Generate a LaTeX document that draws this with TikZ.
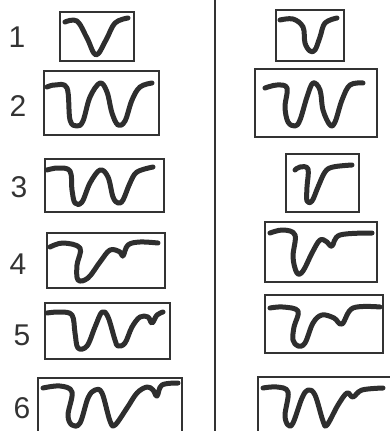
\documentclass[tikz,border=0pt]{standalone}
\usepackage{fontspec}
\setmainfont{Liberation Sans}
\usepackage{tikz}
\definecolor{ink}{HTML}{333333}
\definecolor{penink}{HTML}{2E2E2E}
\tikzset{
  frame/.style={draw=ink,line width=1.3pt},
  wave/.style={draw=penink,line width=5pt,line cap=round,line join=round},
  num/.style={text=ink,font=\fontsize{30}{30}\selectfont,inner sep=0pt}
}

\begin{document}
\begin{tikzpicture}[x=1pt,y=-1pt]
  \useasboundingbox (0,0) rectangle (389,431);
  \draw[ink,line width=1.5pt] (215,-2) -- (215,433);
  % left column
  \node[num] (n1) at (17,37) {1};
  \node[num] (n2) at (18,106) {2};
  \node[num] (n3) at (19,187) {3};
  \node[num] (n4) at (18,264) {4};
  \node[num] (n5) at (22,335) {5};
  \node[num] (n6) at (22,408) {6};
  \draw[frame] (60,12) rectangle (134,61);
  \draw[wave] plot[smooth,tension=0.6] coordinates {(65,22) (77,21) (87,38) (96,55) (106,40) (115,23) (128,18)};
  \draw[frame] (44,71) rectangle (159,135);
  \draw[wave] plot[smooth,tension=0.6] coordinates {(47,87) (55,85) (67,88) (70,120) (77,126) (83,121) (90,97) (100,83) (107,92) (112,113) (118,125) (125,121) (132,100) (140,87) (152,83)};
  \draw[frame] (45,159) rectangle (164,212);
  \draw[wave] plot[smooth,tension=0.6] coordinates {(47,170) (58,168) (70,171) (72,190) (75,203) (82,202) (90,183) (100,170) (108,177) (113,197) (118,203) (123,200) (130,183) (137,172) (153,167)};
  \draw[frame] (47,233) rectangle (165,288);
  \draw[wave] plot[smooth,tension=0.6] coordinates {(50,247) (63,243) (80,248) (77,265) (78,280) (88,278) (100,262) (110,250) (120,252) (123,256) (128,245) (140,242) (158,243)};
  \draw[frame] (45,303) rectangle (170,359);
  \draw[wave] plot[smooth,tension=0.6] coordinates {(47,313) (60,312) (72,315) (75,333) (78,348) (87,346) (95,327) (102,312) (108,317) (115,340) (118,346) (125,343) (132,327) (140,317) (148,317) (152,323) (157,315) (163,312)};
  \draw[frame] (38,378) rectangle (182,433);
  \draw[wave] plot[smooth,tension=0.6] coordinates {(43,388) (60,386) (72,392) (68,415) (72,425) (80,423) (88,398) (95,390) (102,393) (110,421) (115,425) (127,408) (137,393) (147,387) (153,390) (157,396) (162,385) (178,383)};
  % right column
  \draw[frame] (276,10) rectangle (344,61);
  \draw[wave] plot[smooth,tension=0.6] coordinates {(280,20) (293,19) (303,27) (305,43) (310,51) (315,50) (320,37) (325,23) (337,18)};
  \draw[frame] (255,69) rectangle (377,137);
  \draw[wave] plot[smooth,tension=0.6] coordinates {(265,88) (277,85) (287,88) (285,107) (288,122) (295,126) (300,120) (307,97) (313,83) (320,90) (323,110) (330,125) (335,122) (342,100) (350,85) (363,83)};
  \draw[frame] (286,154) rectangle (359,212);
  \draw[wave] plot[smooth,tension=0.6] coordinates {(295,170) (300,167) (308,169) (307,187) (307,201) (312,201) (318,187) (325,172) (333,167) (352,165)};
  \draw[frame] (265,222) rectangle (377,282);
  \draw[wave] plot[smooth,tension=0.6] coordinates {(270,233) (283,230) (295,235) (293,257) (297,273) (303,271) (312,253) (320,240) (327,242) (332,246) (340,235) (372,233)};
  \draw[frame] (265,295) rectangle (383,353);
  \draw[wave] plot[smooth,tension=0.6] coordinates {(270,308) (283,307) (298,311) (294,327) (293,340) (298,346) (305,343) (313,323) (322,315) (334,318) (342,324) (353,308) (380,307)};
  \draw[frame] (258,377) rectangle (392,433);
  \draw[wave] plot[smooth,tension=0.6] coordinates {(263,388) (277,387) (288,392) (285,415) (288,425) (293,423) (302,398) (308,390) (315,395) (323,421) (327,425) (338,405) (347,393) (353,397) (362,390) (383,388)};
\end{tikzpicture}
\end{document}
